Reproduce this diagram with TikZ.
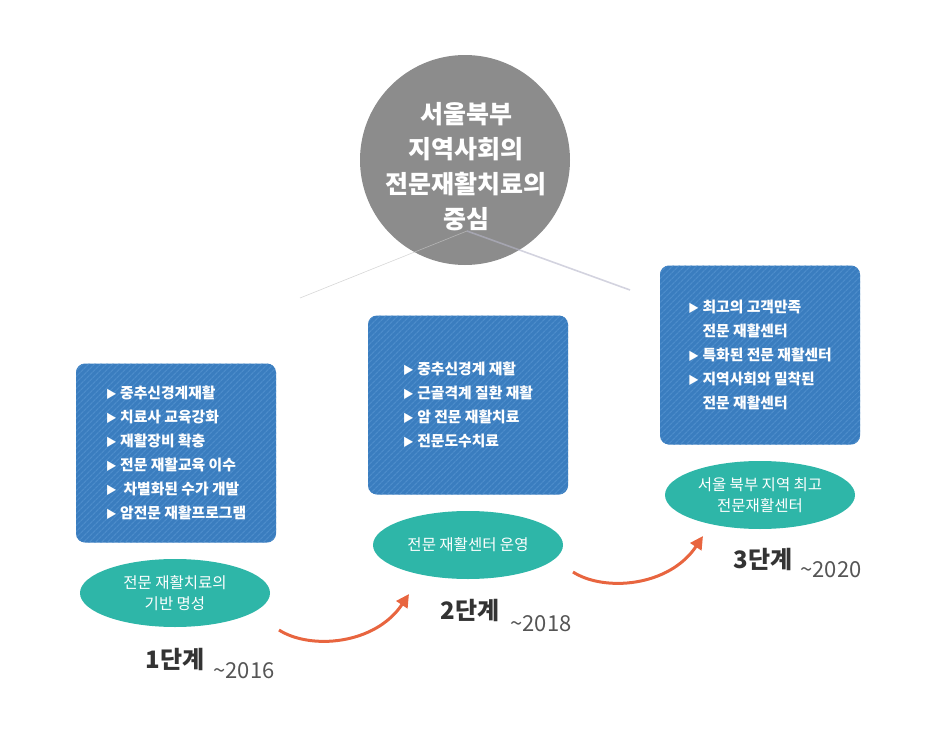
\documentclass[tikz,border=0pt]{standalone}
\usepackage{fontspec}
\setmainfont{Noto Sans CJK KR}
\usepackage{xcolor}
\usepackage{tikz}
\usetikzlibrary{arrows.meta,patterns.meta,shapes.geometric}
\definecolor{boxblue}{HTML}{3A7DBF}
\definecolor{stripeblue}{HTML}{4C8CCA}
\definecolor{tealfill}{HTML}{2EB6A8}
\definecolor{hubgray}{HTML}{8C8C8C}
\definecolor{arroworange}{HTML}{E8653F}
\definecolor{stagegray}{HTML}{333333}
\definecolor{yeargray}{HTML}{555555}
\newcommand{\tri}{\raisebox{0.5pt}{\fontsize{11}{11}\selectfont ▶}\ }

\begin{document}
\begin{tikzpicture}[x=1pt,y=-1pt,
    task/.style={rounded corners=9pt, minimum width=200pt, minimum height=179pt,
        fill=boxblue, postaction={pattern={Lines[angle=45,distance=4pt,line width=1.3pt]}, pattern color=stripeblue},
        text=white, align=left, font=\bfseries\fontsize{14.8}{24}\selectfont},
    goal/.style={ellipse, fill=tealfill, minimum width=190pt, minimum height=68pt, inner sep=0pt,
        text=white, align=center, font=\fontsize{15.5}{21}\selectfont},
    stage/.style={text=stagegray, font=\bfseries\fontsize{24}{24}\selectfont},
    year/.style={anchor=west, text=yeargray, font=\fontsize{22}{22}\selectfont},
    jump/.style={line width=3pt, arroworange, -{Triangle[length=13pt,width=13pt]}}]
            \useasboundingbox (0,0) rectangle (930,744);
            % centre
            \node[circle, fill=hubgray, minimum size=210pt] (hub) at (465,160) {};
            \coordinate (tip) at (467,231);
            \coordinate (fanL) at (300,298);
            \coordinate (fanR) at (630,290);
            \draw[gray!45, opacity=0.7, line width=0.6pt] (fanL) -- (tip);
            \draw[blue!15!gray!50, opacity=0.6, line width=1.6pt] (tip) -- (fanR);
            \node[text=white, align=center, font=\bfseries\fontsize{25}{35}\selectfont] (title) at (466,167)
                {서울북부\\지역사회의\\전문재활치료의\\중심};
            % stage 1
            \node[task] (box1) at (176,453) {\tri 중추신경계재활\\\tri 치료사 교육강화\\\tri 재활장비 확충\\\tri 전문 재활교육 이수\\\tri\ 차별화된 수가 개발\\\tri 암전문 재활프로그램};
            \node[goal] (goal1) at (175,593) {전문 재활치료의\\기반 명성};
            \node[stage] (stage1) at (175,659) {1단계};
            \node[year] (year1) at (210,671) {\textasciitilde2016};
            % stage 2
            \node[task] (box2) at (468,405) {\tri 중추신경계 재활\\\tri 근골격계 질환 재활\\\tri 암 전문 재활치료\\\tri 전문도수치료};
            \node[goal] (goal2) at (468,545) {전문 재활센터 운영};
            \node[stage] (stage2) at (470,610) {2단계};
            \node[year] (year2) at (507,624) {\textasciitilde2018};
            % stage 3
            \node[task] (box3) at (760,355) {\tri 최고의 고객만족\\\hphantom{\tri}전문 재활센터\\\tri 특화된 전문 재활센터\\\tri 지역사회와 밀착된\\\hphantom{\tri}전문 재활센터};
            \node[goal] (goal3) at (760,495) {서울 북부 지역 최고\\전문재활센터};
            \node[stage] (stage3) at (763,559) {3단계};
            \node[year] (year3) at (797,570) {\textasciitilde2020};
            % arrows
            \coordinate (from1) at (279,630);
            \coordinate (to1) at (409,594);
            \coordinate (from2) at (573,572);
            \coordinate (to2) at (703,536);
            \draw[jump] (from1) .. controls (310,650) and (375,645) .. (to1);
            \draw[jump] (from2) .. controls (604,592) and (669,587) .. (to2);
        \end{tikzpicture}
\end{document}
